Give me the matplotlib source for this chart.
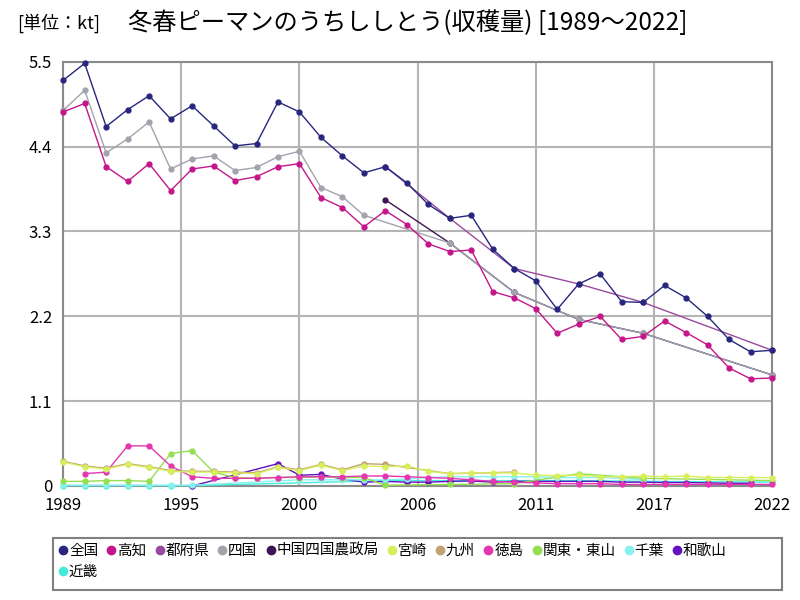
import numpy as np
import matplotlib.pyplot as plt
from matplotlib.lines import Line2D
from matplotlib.patches import Rectangle

plt.rcParams['font.family'] = ['Noto Sans CJK JP', 'DejaVu Sans']

N = None
years = list(range(1989, 2023))

zenkoku = [5.26, 5.48, 4.66, 4.88, 5.06, 4.76, 4.93, 4.67, 4.41, 4.44, 4.98, 4.85, 4.52, 4.28, 4.06, 4.14, 3.93,
           3.65, 3.47, 3.51, 3.07, 2.82, 2.66, 2.29, 2.62, 2.75, 2.39, 2.38, 2.60, 2.44, 2.20, 1.90, 1.74, 1.76]
kochi = [4.85, 4.96, 4.14, 3.95, 4.18, 3.83, 4.11, 4.15, 3.96, 4.01, 4.14, 4.18, 3.74, 3.61, 3.36, 3.57, 3.39,
         3.14, 3.04, 3.06, 2.52, 2.44, 2.30, 1.98, 2.10, 2.20, 1.90, 1.94, 2.14, 1.99, 1.83, 1.53, 1.39, 1.40]
tofuken = [N] * 15 + [4.14, N, N, 3.47, N, N, 2.82, N, N, 2.62, N, N, 2.38, N, N, N, N, N, 1.76]
shikoku = [4.87, 5.13, 4.32, 4.50, 4.72, 4.11, 4.24, 4.28, 4.09, 4.13, 4.27, 4.34, 3.87, 3.75, 3.51,
           N, N, N, 3.15, N, N, 2.51, N, N, 2.16, N, N, 1.98, N, N, N, N, N, 1.44]
chushikoku = [N] * 15 + [3.71, N, N, 3.15, N, N, 2.51, N, N, 2.16, N, N, 1.98, N, N, N, N, N, 1.44]
miyazaki = [0.31, 0.25, 0.22, 0.28, 0.24, 0.19, 0.18, 0.18, 0.17, 0.16, 0.24, 0.20, 0.27, 0.20, 0.26, 0.25, 0.26,
            0.19, 0.16, 0.17, 0.17, 0.17, 0.14, 0.135, 0.14, 0.12, 0.12, 0.13, 0.12, 0.13, 0.11, 0.11, 0.11, 0.11]
kyushu = [0.32, 0.26, 0.23, 0.29, 0.25, 0.20, 0.19, 0.19, 0.18, 0.17, 0.25, 0.21, 0.28, 0.21, 0.29,
          0.28, N, N, 0.16, N, N, 0.18] + [N] * 12
tokushima = [N, 0.16, 0.18, 0.52, 0.52, 0.26, 0.12, 0.10, 0.10, 0.10, 0.11, 0.12, 0.12, 0.12, 0.13, 0.13, 0.12,
             0.11, 0.10, 0.08, 0.06, 0.05, 0.04, 0.03, 0.03, 0.03, 0.02, 0.02, 0.02, 0.02, 0.02, 0.02, 0.02, 0.02]
kanto = [0.06, 0.06, 0.07, 0.07, 0.06, 0.42, 0.46, 0.18, 0.11, 0.10, 0.11, 0.11, 0.12, 0.11, 0.11,
         0.01, N, N, 0.02, N, N, 0.03, N, N, 0.16, N, N, 0.10, N, N, N, N, N, 0.07]
chiba = [0.01, 0.01, 0.01, 0.01, 0.01, 0.01, 0.01, N, N, N, N, 0.08, 0.08, 0.08, 0.08, 0.08, 0.09,
         0.11, 0.12, 0.12, 0.12, 0.12, 0.12, 0.11, 0.11, 0.11, 0.10, 0.08, N, N, N, N, N, N]
wakayama = [N] * 6 + [0.0, N, N, N, 0.29, 0.14, 0.15, 0.09, 0.05, 0.06, 0.05,
            0.05, 0.06, 0.065, 0.05, 0.06, 0.06, 0.06, 0.06, 0.06, 0.05, 0.05, 0.045, 0.045, 0.04, 0.035, 0.035, N]
kinki = [0.005, 0.005, 0.005, 0.005, 0.005, 0.005, 0.005] + [N] * 8 + \
        [0.07, N, N, 0.07, N, N, 0.07, N, N, 0.07, N, N, 0.06, N, N, N, N, N, 0.05]

names = ['全国', '高知', '都府県', '四国', '中国四国農政局', '宮崎', '九州', '徳島', '関東・東山', '千葉', '和歌山', '近畿']
series = [zenkoku, kochi, tofuken, shikoku, chushikoku, miyazaki, kyushu, tokushima, kanto, chiba, wakayama, kinki]
colors = ['#27277f', '#c4168a', '#9a4a9e', '#a3a3ad', '#3d1556', '#d8ef5c', '#c2a272', '#e535b0',
          '#94df52', '#86f2f0', '#6412be', '#45eadc']

fig = plt.figure(figsize=(8, 6), dpi=100)
ax = fig.add_axes([0.079, 0.19, 0.886, 0.707])

for i, (name, vals, c) in enumerate(zip(names, series, colors)):
    xs = [y for y, v in zip(years, vals) if v is not None]
    ys = [v for v in vals if v is not None]
    ax.plot(xs, ys, color=c, lw=1.0, marker='o', ms=3.5, zorder=20 - i, clip_on=False)

ax.set_xlim(1989, 2022)
ax.set_ylim(0, 5.5)
ax.set_yticks([0, 1.1, 2.2, 3.3, 4.4, 5.5])
ax.set_yticklabels(['0', '1.1', '2.2', '3.3', '4.4', '5.5'])
ax.set_xticks([1989, 1994.5, 2000, 2005.5, 2011, 2016.5, 2022])
ax.set_xticklabels(['1989', '1995', '2000', '2006', '2011', '2017', '2022'])
ax.tick_params(length=0, labelsize=12, pad=8)
ax.grid(True, color='#b4b4b4', lw=1.5)
ax.set_axisbelow(True)
for s in ax.spines.values():
    s.set_color('#8a8a8a')
    s.set_linewidth(1.5)

fig.text(0.022, 0.962, '[単位：kt]', fontsize=13, va='center')
fig.text(0.16, 0.962, '冬春ピーマンのうちししとう(収穫量) [1989～2022]', fontsize=17.5, va='center')

# legend box drawn separately, wider than its contents
fig.patches.append(Rectangle((0.066, 0.017), 0.912, 0.086, transform=fig.transFigure,
                             fill=False, edgecolor='#808080', lw=1.5))
# legend fills column by column: put 近畿 under 全国
order = [0, 11] + list(range(1, 11))
handles = [Line2D([], [], ls='none', marker='o', ms=6, color=colors[k]) for k in order]
labels = [names[k] for k in order]
fig.legend(handles, labels, loc='upper left', bbox_to_anchor=(0.068, 0.101), ncol=11,
           fontsize=10.5, handlelength=0.6, handletextpad=0.1, columnspacing=0.6,
           frameon=False, borderpad=0.3, borderaxespad=0)

fig.savefig('out.png', dpi=100)
